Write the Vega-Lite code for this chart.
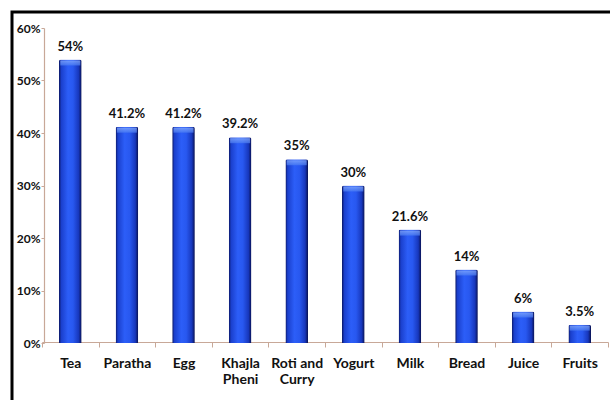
{
  "$schema": "https://vega.github.io/schema/vega-lite/v6.json",
  "autosize": {"type": "none"},
  "padding": {"left": 12, "top": 12, "right": 0, "bottom": 0},
  "width": 600,
  "height": 392,
  "background": "white",
  "view": {"stroke": "black", "strokeWidth": 3},
  "data": {
    "values": [
      {"food": "Tea", "share": 0.54},
      {"food": "Paratha", "share": 0.412},
      {"food": "Egg", "share": 0.412},
      {"food": "Khajla Pheni", "share": 0.392},
      {"food": "Roti and Curry", "share": 0.35},
      {"food": "Yogurt", "share": 0.30},
      {"food": "Milk", "share": 0.216},
      {"food": "Bread", "share": 0.14},
      {"food": "Juice", "share": 0.06},
      {"food": "Fruits", "share": 0.035}
    ]
  },
  "encoding": {
    "x": {
      "field": "food",
      "type": "nominal",
      "sort": null,
      "scale": {"type": "band", "range": [30, 596], "paddingInner": 0, "paddingOuter": 0},
      "axis": {
        "title": null,
        "orient": "bottom",
        "offset": -62,
        "labelAngle": 0,
        "tickBand": "extent",
        "tickSize": 5,
        "domainColor": "#c8a898",
        "tickColor": "#c8a898",
        "domainWidth": 1.2,
        "labelFont": "Lato",
        "labelFontSize": 14,
        "labelFontWeight": "bold",
        "labelColor": "#111111",
        "labelPadding": 9,
        "labelLineHeight": 16,
        "labelExpr": "datum.value == 'Khajla Pheni' ? ['Khajla', 'Pheni'] : datum.value == 'Roti and Curry' ? ['Roti and', 'Curry'] : datum.value"
      }
    },
    "y": {
      "field": "share",
      "type": "quantitative",
      "scale": {"domain": [0, 0.6], "range": [331, 16], "nice": false},
      "axis": {
        "title": null,
        "orient": "left",
        "offset": -32,
        "values": [0, 0.1, 0.2, 0.3, 0.4, 0.5, 0.6],
        "format": ".0%",
        "grid": false,
        "tickSize": 3,
        "domainColor": "#c8a898",
        "tickColor": "#c8a898",
        "domainWidth": 1.2,
        "labelFont": "Lato",
        "labelFontSize": 12,
        "labelFontWeight": "bold",
        "labelColor": "#111111",
        "labelPadding": 1
      }
    }
  },
  "layer": [
    {
      "mark": {
        "type": "bar",
        "width": {"band": 0.4},
        "cornerRadiusTopLeft": 2,
        "cornerRadiusTopRight": 2,
        "color": {
          "gradient": "linear",
          "x1": 0, "x2": 1, "y1": 0, "y2": 0,
          "stops": [
            {"offset": 0, "color": "#0a1560"},
            {"offset": 0.1, "color": "#1a3fcc"},
            {"offset": 0.4, "color": "#2c5ef8"},
            {"offset": 0.62, "color": "#2858f0"},
            {"offset": 0.87, "color": "#1737bc"},
            {"offset": 1, "color": "#08104f"}
          ]
        }
      }
    },
    {
      "mark": {
        "type": "tick",
        "orient": "horizontal",
        "size": 20,
        "thickness": 5,
        "yOffset": 3.5,
        "color": {
          "gradient": "linear",
          "x1": 0, "x2": 0, "y1": 0, "y2": 1,
          "stops": [
            {"offset": 0, "color": "#8fb4ff"},
            {"offset": 1, "color": "#4b7df2"}
          ]
        }
      }
    },
    {
      "mark": {
        "type": "text",
        "dy": -9,
        "baseline": "alphabetic",
        "font": "Lato",
        "fontSize": 13,
        "fontWeight": "bold",
        "color": "#111111"
      },
      "encoding": {
        "text": {"field": "share", "type": "quantitative", "format": "~%"}
      }
    }
  ]
}
